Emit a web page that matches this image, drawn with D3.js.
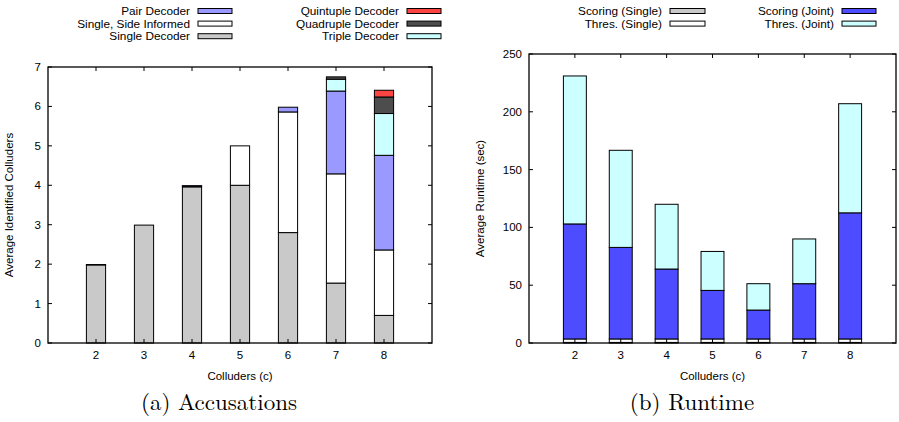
<!DOCTYPE html>
<html>
<head>
<meta charset="utf-8">
<script src="https://cdn.jsdelivr.net/npm/d3@7"></script>
<style>
  body { margin: 0; background: #fff; }
  text { font-family: "Liberation Sans", Arial, sans-serif; }
</style>
</head>
<body>
<div id="chart"></div>
<script>
// colluder counts on the x axis
var colluders = [2, 3, 4, 5, 6, 7, 8];

// (a) accusations, segment heights stacked bottom to top
var singleDecoder = [1.98, 2.99, 3.96, 4.0, 2.80, 1.52, 0.70];
var sideInformed  = [0.01, 0.00, 0.02, 1.0, 3.06, 2.77, 1.66];
var pairDecoder   = [0.00, 0.00, 0.01, 0.0, 0.12, 2.10, 2.40];
var tripleDecoder = [0.00, 0.00, 0.00, 0.0, 0.00, 0.30, 1.06];
var quadDecoder   = [0.00, 0.00, 0.00, 0.0, 0.00, 0.06, 0.42];
var quintDecoder  = [0.00, 0.00, 0.00, 0.0, 0.00, 0.00, 0.17];

// (b) runtime in seconds, segment heights stacked bottom to top
var scoringSingle = [0.5, 0.5, 0.5, 0.5, 0.5, 0.5, 0.5];
var thresSingle   = [3.0, 3.0, 3.0, 3.0, 3.0, 3.0, 3.0];
var scoringJoint  = [99.5, 79.2, 60.5, 42.0, 25.0, 47.8, 109.1];
var thresJoint    = [128.0, 84.0, 56.0, 33.7, 22.8, 38.7, 94.4];

var yTicksA = [0, 1, 2, 3, 4, 5, 6, 7];
var yTicksB = [0, 50, 100, 150, 200, 250];

var svg = d3.select("#chart").append("svg")
  .attr("width", 899)
  .attr("height", 422);

function drawPanel(opt) {
  var x = d3.scaleLinear().domain([1, 9]).range([opt.left, opt.right]);
  var y = d3.scaleLinear().domain([0, opt.ymax]).range([opt.bottom, opt.top]);
  var g = svg.append("g");

  var rows = colluders.map(function(c, i) {
    var r = { c: c };
    opt.series.forEach(function(s) { r[s.key] = s.values[i]; });
    return r;
  });
  var stacked = d3.stack().keys(opt.series.map(s => s.key))(rows);
  var bw = (x(2) - x(1)) * opt.barFrac;

  stacked.forEach(function(layer, li) {
    g.selectAll(null)
      .data(layer)
      .enter()
      .append("rect")
      .attr("x", d => x(d.data.c) - bw / 2)
      .attr("y", d => y(d[1]))
      .attr("width", bw)
      .attr("height", d => Math.max(0, y(d[0]) - y(d[1])))
      .attr("fill", opt.series[li].color)
      .attr("stroke", "#000")
      .attr("stroke-width", 1);
  });

  // frame
  g.append("rect")
    .attr("x", opt.left).attr("y", opt.top)
    .attr("width", opt.right - opt.left).attr("height", opt.bottom - opt.top)
    .attr("fill", "none").attr("stroke", "#000").attr("stroke-width", 1.3);

  // y ticks, inward on both sides
  opt.yTicks.forEach(function(t) {
    g.append("line").attr("x1", opt.left).attr("x2", opt.left + 4)
      .attr("y1", y(t)).attr("y2", y(t)).attr("stroke", "#000");
    g.append("line").attr("x1", opt.right).attr("x2", opt.right - 4)
      .attr("y1", y(t)).attr("y2", y(t)).attr("stroke", "#000");
    g.append("text").attr("x", opt.left - 7).attr("y", y(t) + 4)
      .attr("text-anchor", "end").attr("font-size", 11.5).text(t);
  });
  // x ticks
  colluders.forEach(function(c) {
    g.append("line").attr("x1", x(c)).attr("x2", x(c))
      .attr("y1", opt.top).attr("y2", opt.top + 4).attr("stroke", "#000");
    g.append("line").attr("x1", x(c)).attr("x2", x(c))
      .attr("y1", opt.bottom).attr("y2", opt.bottom - 4).attr("stroke", "#000");
    g.append("text").attr("x", x(c)).attr("y", opt.bottom + 16)
      .attr("text-anchor", "middle").attr("font-size", 11.5).text(c);
  });

  var cx = (opt.left + opt.right) / 2;
  g.append("text").attr("x", cx).attr("y", opt.bottom + 37)
    .attr("text-anchor", "middle").attr("font-size", 11.5).text("Colluders (c)");
  g.append("text")
    .attr("transform", `translate(${opt.titleX}, ${(opt.top + opt.bottom) / 2}) rotate(-90)`)
    .attr("text-anchor", "middle").attr("font-size", 11.5).text(opt.ylabel);
  g.append("text").attr("x", opt.captionX).attr("y", 410)
    .attr("text-anchor", "middle").attr("font-size", 23)
    .style("font-family", "'Latin Modern Roman','DejaVu Serif','Liberation Serif',serif")
    .text(opt.caption);

  // legend
  opt.legend.forEach(function(l) {
    g.append("text").attr("x", l.tx).attr("y", l.y + 4)
      .attr("text-anchor", "end").attr("font-size", 11.8).text(l.name);
    g.append("rect").attr("x", l.tx + 8).attr("y", l.y - 2.5)
      .attr("width", l.sw).attr("height", 5)
      .attr("fill", l.color).attr("stroke", "#000").attr("stroke-width", 1);
  });
}

var colA = { single: "#c9c9c9", side: "#ffffff", pair: "#9999ff", triple: "#ccffff", quad: "#4d4d4d", quint: "#ff4444" };
var colB = { ss: "#c9c9c9", ts: "#ffffff", sj: "#4d4dff", tj: "#ccffff" };

drawPanel({
  left: 48, right: 432, top: 67, bottom: 343, ymax: 7, barFrac: 0.4,
  yTicks: yTicksA, ylabel: "Average Identified Colluders", titleX: 13,
  caption: "(a) Accusations", captionX: 219,
  series: [
    { key: "single", values: singleDecoder, color: colA.single },
    { key: "side", values: sideInformed, color: colA.side },
    { key: "pair", values: pairDecoder, color: colA.pair },
    { key: "triple", values: tripleDecoder, color: colA.triple },
    { key: "quad", values: quadDecoder, color: colA.quad },
    { key: "quint", values: quintDecoder, color: colA.quint }
  ],
  legend: [
    { name: "Pair Decoder", y: 11, tx: 190, sw: 34, color: colA.pair },
    { name: "Single, Side Informed", y: 23.6, tx: 190, sw: 34, color: colA.side },
    { name: "Single Decoder", y: 36.2, tx: 190, sw: 34, color: colA.single },
    { name: "Quintuple Decoder", y: 11, tx: 399, sw: 34, color: colA.quint },
    { name: "Quadruple Decoder", y: 23.6, tx: 399, sw: 34, color: colA.quad },
    { name: "Triple Decoder", y: 36.2, tx: 399, sw: 34, color: colA.triple }
  ]
});

drawPanel({
  left: 529, right: 896, top: 54, bottom: 343, ymax: 250, barFrac: 0.5,
  yTicks: yTicksB, ylabel: "Average Runtime (sec)", titleX: 484,
  caption: "(b) Runtime", captionX: 692,
  series: [
    { key: "ss", values: scoringSingle, color: colB.ss },
    { key: "ts", values: thresSingle, color: colB.ts },
    { key: "sj", values: scoringJoint, color: colB.sj },
    { key: "tj", values: thresJoint, color: colB.tj }
  ],
  legend: [
    { name: "Scoring (Single)", y: 11, tx: 662, sw: 35, color: colB.ss },
    { name: "Thres. (Single)", y: 23.6, tx: 662, sw: 35, color: colB.ts },
    { name: "Scoring (Joint)", y: 11, tx: 834, sw: 34, color: colB.sj },
    { name: "Thres. (Joint)", y: 23.6, tx: 834, sw: 34, color: colB.tj }
  ]
});
</script>
</body>
</html>
